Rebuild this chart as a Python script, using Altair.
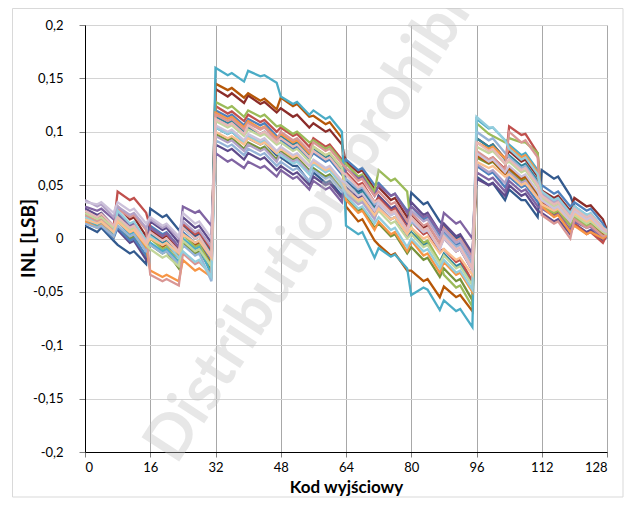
import altair as alt
import pandas as pd

# Output codes at which each curve is sampled
codes = [0, 3, 4, 7, 8, 11, 12, 15, 16, 19, 20, 23, 24, 27, 28, 31,
         32, 35, 36, 39, 40, 43, 44, 47, 48, 51, 52, 55, 56, 59, 60, 63,
         64, 67, 68, 71, 72, 75, 76, 79, 80, 83, 84, 87, 88, 91, 92, 95,
         96, 99, 100, 103, 104, 107, 108, 111, 112, 115, 116, 119, 120, 123, 124, 127,
         128]

# INL curves (LSB)
s_dark_blue = [0.012, 0.006, 0.010, -0.002, -0.006, -0.014, -0.012, -0.024, 0.028, 0.020, 0.022, 0.008, 0.012, 0.002, 0.004, -0.014,
               0.104, 0.098, 0.100, 0.090, 0.094, 0.088, 0.090, 0.078, 0.076, 0.068, 0.068, 0.053, 0.062, 0.052, 0.054, 0.040,
               0.054, 0.044, 0.046, 0.030, 0.040, 0.028, 0.030, 0.014, 0.043, 0.032, 0.034, 0.016, 0.012, 0.000, 0.002, -0.018,
               0.058, 0.050, 0.052, 0.036, 0.046, 0.036, 0.036, 0.020, 0.064, 0.056, 0.058, 0.040, 0.030, 0.020, 0.022, 0.008, 0.005]
s_dark_red = [0.024, 0.018, 0.021, 0.010, 0.030, 0.018, 0.020, 0.002, 0.008, 0.000, 0.003, -0.010, 0.014, 0.004, 0.006, -0.012,
              0.140, 0.133, 0.136, 0.127, 0.134, 0.126, 0.128, 0.118, 0.122, 0.114, 0.116, 0.104, 0.108, 0.100, 0.102, 0.088,
              0.072, 0.062, 0.064, 0.046, 0.048, 0.036, 0.038, 0.020, 0.022, 0.010, 0.012, -0.008, 0.000, -0.012, -0.010, -0.030,
              0.094, 0.086, 0.088, 0.075, 0.082, 0.072, 0.074, 0.058, 0.045, 0.038, 0.040, 0.026, 0.038, 0.030, 0.031, 0.018, 0.008]
s_olive = [0.018, 0.012, 0.014, 0.002, 0.012, 0.000, 0.002, -0.018, -0.006, -0.014, -0.012, -0.028, -0.004, -0.014, -0.012, -0.030,
           0.098, 0.092, 0.094, 0.084, 0.090, 0.084, 0.086, 0.074, 0.082, 0.074, 0.076, 0.064, 0.066, 0.058, 0.060, 0.046,
           0.038, 0.026, 0.028, 0.010, 0.014, 0.002, 0.004, -0.014, -0.008, -0.020, -0.018, -0.036, -0.028, -0.040, -0.038, -0.058,
           0.076, 0.070, 0.072, 0.060, 0.064, 0.054, 0.056, 0.040, 0.034, 0.026, 0.028, 0.014, 0.020, 0.012, 0.014, 0.004, 0.004]
s_dark_purple = [0.028, 0.022, 0.024, 0.012, 0.008, -0.004, -0.002, -0.020, 0.016, 0.008, 0.010, -0.004, 0.020, 0.010, 0.012, -0.004,
                 0.088, 0.082, 0.084, 0.074, 0.080, 0.074, 0.076, 0.064, 0.068, 0.060, 0.062, 0.050, 0.058, 0.050, 0.052, 0.038,
                 0.048, 0.038, 0.040, 0.024, 0.040, 0.028, 0.030, 0.014, 0.034, 0.022, 0.024, 0.006, 0.014, 0.002, 0.004, -0.014,
                 0.056, 0.050, 0.052, 0.040, 0.050, 0.040, 0.042, 0.026, 0.024, 0.016, 0.018, 0.004, 0.014, 0.006, 0.008, -0.002, 0.002]
s_teal = [0.020, 0.014, 0.016, 0.004, 0.022, 0.012, 0.014, -0.002, 0.004, -0.004, -0.002, -0.016, 0.010, 0.000, 0.002, -0.014,
          0.114, 0.108, 0.110, 0.100, 0.104, 0.098, 0.100, 0.090, 0.096, 0.088, 0.090, 0.078, 0.084, 0.076, 0.078, 0.064,
          0.052, 0.042, 0.044, 0.028, 0.030, 0.018, 0.020, 0.002, 0.006, -0.006, -0.004, -0.022, -0.014, -0.026, -0.024, -0.042,
          0.094, 0.086, 0.088, 0.074, 0.078, 0.068, 0.070, 0.054, 0.040, 0.032, 0.034, 0.020, 0.028, 0.020, 0.022, 0.008, 0.006]
s_brown = [0.020, 0.014, 0.017, 0.006, 0.018, 0.006, 0.008, -0.010, 0.000, -0.008, -0.005, -0.018, 0.004, -0.006, -0.004, -0.024,
           0.145, 0.139, 0.141, 0.132, 0.136, 0.129, 0.131, 0.121, 0.132, 0.124, 0.126, 0.114, 0.115, 0.107, 0.109, 0.094,
           0.030, 0.016, 0.018, -0.002, -0.006, -0.016, -0.014, -0.030, -0.030, -0.040, -0.038, -0.055, -0.045, -0.055, -0.053, -0.068,
           0.078, 0.071, 0.073, 0.060, 0.066, 0.056, 0.058, 0.042, 0.030, 0.023, 0.025, 0.012, 0.018, 0.011, 0.012, 0.004, 0.004]
s_blue = [0.016, 0.010, 0.012, 0.000, 0.010, -0.002, 0.000, -0.016, 0.012, 0.004, 0.006, -0.008, 0.006, -0.004, -0.002, -0.020,
          0.120, 0.114, 0.116, 0.106, 0.112, 0.106, 0.108, 0.096, 0.092, 0.084, 0.086, 0.074, 0.080, 0.072, 0.074, 0.060,
          0.074, 0.064, 0.066, 0.050, 0.052, 0.040, 0.042, 0.026, 0.030, 0.018, 0.020, 0.002, 0.006, -0.006, -0.004, -0.024,
          0.068, 0.060, 0.062, 0.048, 0.058, 0.048, 0.050, 0.034, 0.050, 0.042, 0.044, 0.030, 0.034, 0.026, 0.028, 0.014, 0.007]
s_red = [0.020, 0.016, 0.019, 0.010, 0.044, 0.036, 0.038, 0.024, 0.010, 0.002, 0.004, -0.008, 0.014, 0.004, 0.006, -0.010,
         0.124, 0.117, 0.119, 0.110, 0.116, 0.109, 0.111, 0.100, 0.104, 0.096, 0.098, 0.086, 0.094, 0.086, 0.088, 0.074,
         0.062, 0.050, 0.052, 0.034, 0.038, 0.026, 0.028, 0.010, 0.016, 0.004, 0.006, -0.012, -0.010, -0.022, -0.020, -0.040,
         0.080, 0.074, 0.076, 0.065, 0.105, 0.097, 0.098, 0.080, 0.034, 0.026, 0.028, 0.012, 0.014, 0.004, 0.006, -0.004, 0.004]
s_green = [0.022, 0.014, 0.016, 0.004, 0.020, 0.008, 0.010, -0.010, 0.000, -0.010, -0.008, -0.022, 0.004, -0.008, -0.006, -0.026,
           0.128, 0.122, 0.124, 0.114, 0.120, 0.114, 0.116, 0.105, 0.106, 0.098, 0.100, 0.090, 0.092, 0.084, 0.086, 0.072,
           0.070, 0.058, 0.060, 0.044, 0.064, 0.054, 0.056, 0.044, 0.010, -0.004, -0.002, -0.022, -0.034, -0.046, -0.044, -0.064,
           0.108, 0.098, 0.096, 0.090, 0.094, 0.090, 0.090, 0.080, 0.030, 0.024, 0.026, 0.012, 0.020, 0.012, 0.013, 0.002, 0.002]
s_purple = [0.030, 0.026, 0.028, 0.018, 0.024, 0.012, 0.014, -0.004, 0.010, 0.002, 0.005, -0.008, 0.030, 0.024, 0.026, 0.012,
            0.080, 0.072, 0.074, 0.066, 0.072, 0.066, 0.068, 0.058, 0.064, 0.056, 0.058, 0.046, 0.054, 0.046, 0.048, 0.034,
            0.066, 0.056, 0.058, 0.040, 0.050, 0.040, 0.042, 0.024, 0.030, 0.020, 0.022, 0.006, 0.024, 0.014, 0.016, 0.000,
            0.062, 0.055, 0.057, 0.044, 0.054, 0.044, 0.046, 0.030, 0.028, 0.021, 0.023, 0.008, 0.016, 0.010, 0.011, 0.000, 0.003]
s_cyan = [0.018, 0.012, 0.015, 0.004, 0.016, 0.004, 0.006, -0.012, -0.004, -0.012, -0.010, -0.022, 0.000, -0.010, -0.008, -0.034,
          0.160, 0.153, 0.155, 0.147, 0.157, 0.152, 0.153, 0.146, 0.133, 0.126, 0.128, 0.116, 0.120, 0.112, 0.114, 0.100,
          0.012, 0.004, 0.006, -0.018, -0.009, -0.017, -0.015, -0.028, -0.053, -0.046, -0.048, -0.067, -0.058, -0.068, -0.066, -0.083,
          0.112, 0.103, 0.104, 0.092, 0.088, 0.078, 0.080, 0.064, 0.040, 0.033, 0.034, 0.020, 0.030, 0.022, 0.023, 0.010, 0.006]
s_orange = [0.016, 0.010, 0.013, 0.002, 0.016, 0.006, 0.008, -0.008, -0.030, -0.036, -0.034, -0.040, -0.020, -0.030, -0.028, -0.036,
            0.118, 0.112, 0.114, 0.104, 0.110, 0.103, 0.105, 0.094, 0.098, 0.090, 0.092, 0.080, 0.086, 0.078, 0.080, 0.066,
            0.036, 0.024, 0.026, 0.008, 0.016, 0.004, 0.006, -0.012, -0.002, -0.016, -0.014, -0.032, -0.022, -0.034, -0.032, -0.050,
            0.090, 0.084, 0.086, 0.075, 0.086, 0.076, 0.078, 0.062, 0.030, 0.020, 0.022, 0.006, 0.012, 0.004, 0.006, 0.000, 0.003]
s_light_blue = [0.014, 0.010, 0.012, 0.002, 0.012, 0.002, 0.004, -0.012, -0.006, -0.014, -0.012, -0.024, -0.006, -0.016, -0.014, -0.040,
                0.092, 0.086, 0.088, 0.078, 0.084, 0.078, 0.080, 0.068, 0.072, 0.064, 0.066, 0.054, 0.064, 0.056, 0.058, 0.044,
                0.056, 0.046, 0.048, 0.032, 0.034, 0.022, 0.024, 0.008, 0.016, 0.006, 0.008, -0.010, 0.004, -0.008, -0.006, -0.024,
                0.100, 0.092, 0.094, 0.080, 0.076, 0.066, 0.068, 0.052, 0.036, 0.028, 0.030, 0.016, 0.024, 0.016, 0.018, 0.006, 0.005]
s_salmon = [0.022, 0.016, 0.018, 0.008, 0.028, 0.020, 0.022, 0.008, -0.034, -0.040, -0.038, -0.044, -0.014, -0.024, -0.022, -0.034,
            0.116, 0.110, 0.112, 0.102, 0.108, 0.102, 0.104, 0.092, 0.100, 0.092, 0.094, 0.082, 0.090, 0.082, 0.084, 0.070,
            0.066, 0.054, 0.056, 0.040, 0.044, 0.032, 0.034, 0.016, 0.024, 0.012, 0.014, -0.004, 0.010, -0.002, 0.000, -0.018,
            0.082, 0.074, 0.076, 0.064, 0.100, 0.090, 0.092, 0.076, 0.022, 0.014, 0.016, 0.000, 0.018, 0.010, 0.012, 0.002, 0.004]
s_light_green = [0.024, 0.018, 0.020, 0.010, 0.018, 0.008, 0.010, -0.006, -0.010, -0.018, -0.016, -0.026, -0.002, -0.012, -0.010, -0.026,
                 0.110, 0.104, 0.106, 0.096, 0.102, 0.096, 0.098, 0.088, 0.090, 0.082, 0.084, 0.072, 0.086, 0.078, 0.080, 0.066,
                 0.044, 0.034, 0.036, 0.020, 0.026, 0.014, 0.016, 0.000, 0.004, -0.008, -0.006, -0.024, -0.016, -0.028, -0.026, -0.044,
                 0.086, 0.080, 0.082, 0.070, 0.072, 0.062, 0.064, 0.048, 0.038, 0.030, 0.032, 0.018, 0.022, 0.014, 0.016, 0.006, 0.004]
s_lavender = [0.036, 0.030, 0.032, 0.020, 0.030, 0.022, 0.024, 0.010, 0.018, 0.010, 0.012, 0.000, 0.016, 0.006, 0.008, -0.008,
              0.096, 0.090, 0.092, 0.082, 0.088, 0.082, 0.084, 0.072, 0.080, 0.072, 0.074, 0.062, 0.072, 0.064, 0.066, 0.052,
              0.042, 0.032, 0.034, 0.018, 0.030, 0.018, 0.020, 0.004, 0.026, 0.016, 0.018, 0.000, 0.008, -0.004, -0.002, -0.020,
              0.070, 0.062, 0.064, 0.052, 0.062, 0.052, 0.054, 0.038, 0.042, 0.034, 0.036, 0.022, 0.026, 0.018, 0.020, 0.008, 0.006]
s_light_cyan = [0.020, 0.014, 0.016, 0.006, 0.026, 0.014, 0.016, -0.002, 0.002, -0.006, -0.004, -0.018, -0.012, -0.022, -0.020, -0.036,
                0.104, 0.098, 0.100, 0.090, 0.096, 0.090, 0.092, 0.080, 0.078, 0.070, 0.072, 0.060, 0.070, 0.062, 0.064, 0.050,
                0.040, 0.028, 0.030, 0.014, 0.020, 0.008, 0.010, -0.008, 0.000, -0.012, -0.010, -0.028, -0.020, -0.032, -0.030, -0.048,
                0.114, 0.104, 0.104, 0.092, 0.084, 0.074, 0.076, 0.060, 0.044, 0.036, 0.038, 0.024, 0.030, 0.022, 0.024, 0.010, 0.008]
s_peach = [0.018, 0.014, 0.016, 0.006, 0.016, 0.006, 0.008, -0.006, 0.000, -0.006, -0.004, -0.014, 0.004, -0.004, -0.002, -0.018,
           0.100, 0.094, 0.096, 0.088, 0.094, 0.088, 0.090, 0.080, 0.084, 0.076, 0.078, 0.068, 0.072, 0.064, 0.066, 0.054,
           0.046, 0.036, 0.038, 0.022, 0.028, 0.018, 0.020, 0.004, 0.010, 0.000, 0.002, -0.014, -0.010, -0.020, -0.018, -0.034,
           0.072, 0.066, 0.068, 0.058, 0.060, 0.050, 0.052, 0.038, 0.032, 0.026, 0.028, 0.016, 0.024, 0.016, 0.018, 0.008, 0.006]
s_pale_lilac = [0.034, 0.032, 0.034, 0.024, 0.034, 0.026, 0.028, 0.014, 0.020, 0.012, 0.014, 0.002, 0.024, 0.014, 0.016, 0.000,
                0.106, 0.100, 0.102, 0.092, 0.098, 0.092, 0.094, 0.082, 0.086, 0.078, 0.080, 0.068, 0.074, 0.066, 0.068, 0.054,
                0.052, 0.040, 0.042, 0.026, 0.034, 0.022, 0.024, 0.008, 0.018, 0.006, 0.008, -0.010, 0.000, -0.012, -0.010, -0.030,
                0.080, 0.072, 0.074, 0.062, 0.068, 0.058, 0.060, 0.044, 0.036, 0.028, 0.030, 0.016, 0.026, 0.018, 0.020, 0.008, 0.006]
s_pink = [0.026, 0.020, 0.023, 0.012, 0.020, 0.010, 0.012, -0.004, 0.006, -0.002, 0.000, -0.012, 0.010, 0.000, 0.002, -0.016,
          0.112, 0.106, 0.108, 0.098, 0.106, 0.098, 0.100, 0.090, 0.094, 0.086, 0.088, 0.076, 0.082, 0.074, 0.076, 0.062,
          0.060, 0.048, 0.050, 0.034, 0.036, 0.024, 0.026, 0.008, 0.020, 0.008, 0.010, -0.008, 0.002, -0.010, -0.008, -0.028,
          0.090, 0.082, 0.084, 0.070, 0.074, 0.064, 0.066, 0.050, 0.040, 0.032, 0.034, 0.020, 0.028, 0.020, 0.022, 0.010, 0.007]

series_names = ["S1", "S2", "S3", "S4", "S5", "S6", "S7", "S8", "S9", "S10",
                "S11", "S12", "S13", "S14", "S15", "S16", "S17", "S18", "S19", "S20"]
series_values = [s_dark_blue, s_dark_red, s_olive, s_dark_purple, s_teal, s_brown, s_blue, s_red,
                 s_green, s_purple, s_cyan, s_orange, s_light_blue, s_salmon, s_light_green,
                 s_lavender, s_light_cyan, s_peach, s_pale_lilac, s_pink]
series_colors = ["#335A8E", "#8B2D2A", "#77933C", "#5F4B8B", "#31859C", "#B65708", "#4F81BD", "#C0504D",
                 "#9BBB59", "#8064A2", "#4BACC6", "#F79646", "#95B3D7", "#D99694", "#C3D69B",
                 "#B3A2C7", "#93CDDD", "#FAC090", "#CCC1DA", "#E6B9B8"]

x_ticks = [0, 16, 32, 48, 64, 80, 96, 112, 128]
y_ticks = [-0.2, -0.15, -0.1, -0.05, 0, 0.05, 0.1, 0.15, 0.2]
x_title = "Kod wyjściowy"
y_title = "INL [LSB]"
watermark = "Distribution prohibited"

rows = []
for name, vals in zip(series_names, series_values):
    for c, v in zip(codes, vals):
        rows.append({"series": name, "code": c, "inl": v})
df = pd.DataFrame(rows)

FONT = "Lato"

lines = alt.Chart(df).mark_line(strokeWidth=2.3, clip=True).encode(
    x=alt.X("code:Q",
            scale=alt.Scale(domain=[0, 128], nice=False, zero=False),
            axis=alt.Axis(values=x_ticks, title=x_title, grid=True, gridColor="#a8a8a8",
                          gridWidth=1, tickColor="#808080", tickSize=5, domainColor="#000000",
                          labelFont=FONT, labelFontSize=13, labelColor="#000000", labelPadding=4,
                          titleFont=FONT, titleFontSize=17, titleFontWeight="bold",
                          titleColor="#000000", titleY=35, titleBaseline="middle")),
    y=alt.Y("inl:Q",
            scale=alt.Scale(domain=[-0.2, 0.2], nice=False, zero=False),
            axis=alt.Axis(values=y_ticks, title=y_title, grid=True, gridColor="#d4d4d4",
                          gridWidth=1, tickColor="#808080", tickSize=6, domainColor="#000000",
                          labelExpr="replace(toString(round(datum.value*100)/100), '.', ',')",
                          labelFont=FONT, labelFontSize=13, labelColor="#000000", labelPadding=16,
                          titleFont=FONT, titleFontSize=19, titleFontWeight="bold",
                          titleColor="#000000", titleX=-57, titleY=213, titleAngle=270,
                          titleAlign="center", titleBaseline="middle")),
    color=alt.Color("series:N", scale=alt.Scale(domain=series_names, range=series_colors),
                    legend=None),
    detail="series:N",
)

wm = alt.Chart(pd.DataFrame({"t": [watermark]})).mark_text(
    angle=303, fontSize=62, font=FONT, fontWeight="bold", color="#c4c4c4", opacity=0.4,
    align="center", baseline="middle"
).encode(x=alt.value(248), y=alt.value(165), text="t:N")

frame = alt.Chart(pd.DataFrame({"a": [0]})).mark_rect(
    fillOpacity=0, stroke="#d9d9d9", strokeWidth=1
).encode(x=alt.value(-72.5), x2=alt.value(538), y=alt.value(-16.5), y2=alt.value(472))

chart = alt.layer(frame, lines, wm).properties(
    width=522, height=427,
    padding={"left": 77, "top": 17, "right": 17, "bottom": 46},
    autosize=alt.AutoSizeParams(type="none"),
).configure_view(stroke="#000000", strokeWidth=1).configure(background="white")

chart.save("out.html", embed_options={"renderer": "svg", "actions": False})
